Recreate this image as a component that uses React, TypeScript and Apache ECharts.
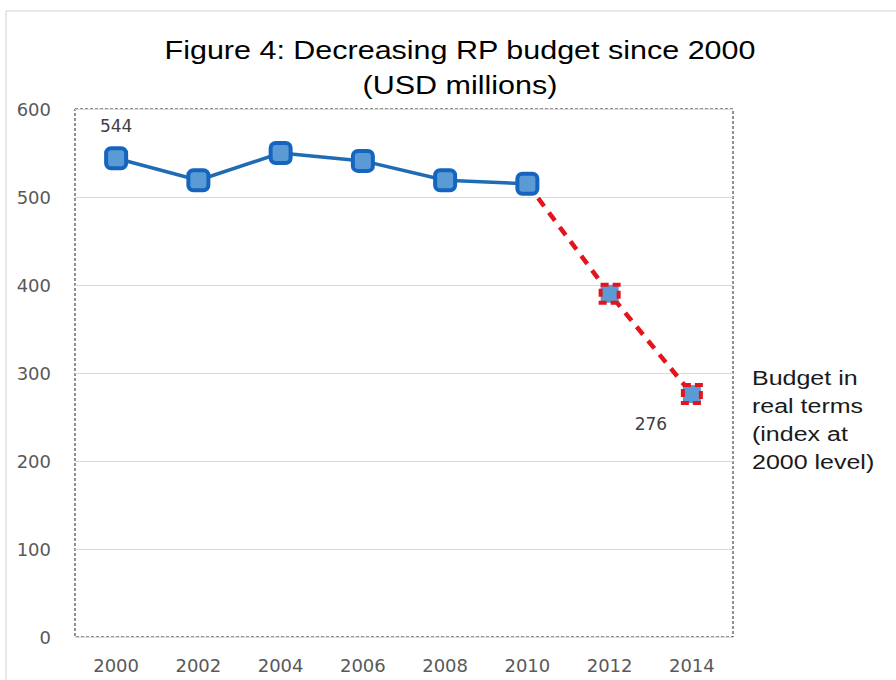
import React, { useEffect, useRef } from "react";
import * as echarts from "echarts";

const years = ["2000", "2002", "2004", "2006", "2008", "2010", "2012", "2014"];
const nominal = [544, 519, 550, 541, 519, 515, null, null];
const realTerms = [null, null, null, null, null, 515, 390, 276];
const yTicks = [0, 100, 200, 300, 400, 500, 600];
const titleLine1 = "Figure 4: Decreasing RP budget since 2000";
const titleLine2 = "(USD millions)";
const noteText = "Budget in\nreal terms\n(index at\n2000 level)";

export default function App() {
  const ref = useRef<HTMLDivElement>(null);
  useEffect(() => {
    document.body.style.margin = "0";
    const chart = echarts.init(ref.current!, null, { renderer: "svg" });
    const labelFont = "DejaVu Sans";
    const blueData = nominal.map((v, i) =>
      v === null
        ? null
        : i === 0
        ? {
            value: v,
            label: {
              show: true,
              position: "top",
              distance: 12,
              color: "#404040",
              fontSize: 17,
              fontFamily: labelFont,
              formatter: "{c}",
            },
          }
        : v
    );
    const redData = realTerms.map((v, i) => {
      if (v === null) return null;
      if (i === 5) return { value: v, symbol: "none" };
      if (i === realTerms.length - 1)
        return {
          value: v,
          label: {
            show: true,
            position: "bottom",
            offset: [-41, 5],
            color: "#404040",
            fontSize: 17,
            fontFamily: labelFont,
            formatter: "{c}",
          },
        };
      return v;
    });
    chart.setOption({
      animation: false,
      backgroundColor: "#ffffff",
      grid: {
        left: 75,
        top: 109,
        width: 658,
        height: 528,
        show: true,
        borderColor: "#222222",
        borderWidth: 1,
        borderType: [3, 2],
        containLabel: false,
      },
      xAxis: {
        type: "category",
        data: years,
        boundaryGap: true,
        axisLine: { show: true, lineStyle: { color: "#d9d9d9", width: 1 } },
        axisTick: { show: false },
        axisLabel: {
          color: "#595959",
          fontSize: 18,
          fontFamily: labelFont,
          margin: 19,
        },
      },
      yAxis: {
        type: "value",
        min: yTicks[0],
        max: yTicks[yTicks.length - 1],
        interval: 100,
        axisLine: { show: false },
        axisTick: { show: false },
        splitLine: { lineStyle: { color: "#d9d9d9", width: 1 } },
        axisLabel: {
          color: "#595959",
          fontSize: 18,
          fontFamily: labelFont,
          margin: 24,
        },
      },
      graphic: [
        {
          type: "polyline",
          shape: { points: [[6, 680], [6, 11], [896, 11]] },
          style: { stroke: "#d0d0d0", lineWidth: 1, fill: null },
          silent: true,
        },
        {
          type: "text",
          x: 460,
          y: 50,
          scaleX: 1.22,
          style: {
            text: titleLine1,
            fontFamily: "Liberation Sans",
            fontSize: 25,
            fill: "#000000",
            align: "center",
            verticalAlign: "middle",
          },
        },
        {
          type: "text",
          x: 460,
          y: 85,
          scaleX: 1.22,
          style: {
            text: titleLine2,
            fontFamily: "Liberation Sans",
            fontSize: 25,
            fill: "#000000",
            align: "center",
            verticalAlign: "middle",
          },
        },
        {
          type: "text",
          x: 752,
          y: 364,
          scaleX: 1.25,
          style: {
            text: noteText,
            fontFamily: "Liberation Sans",
            fontSize: 20,
            lineHeight: 28,
            fill: "#1a1a1a",
            align: "left",
            verticalAlign: "top",
          },
        },
      ],
      series: [
        {
          type: "line",
          data: redData,
          z: 2,
          symbol: "rect",
          symbolSize: 18,
          lineStyle: { color: "#e3141c", width: 4.5, type: [10, 8] },
          itemStyle: {
            color: "#5b9bd5",
            borderColor: "#e3141c",
            borderWidth: 4,
            borderType: [8, 4],
          },
        },
        {
          type: "line",
          data: blueData,
          z: 3,
          symbol: "roundRect",
          symbolSize: 20,
          lineStyle: { color: "#1f6cb5", width: 3.5 },
          itemStyle: {
            color: "#5b9bd5",
            borderColor: "#1565c0",
            borderWidth: 4,
          },
        },
      ],
    });
    return () => chart.dispose();
  }, []);
  return <div ref={ref} style={{ width: 896, height: 680 }} />;
}
